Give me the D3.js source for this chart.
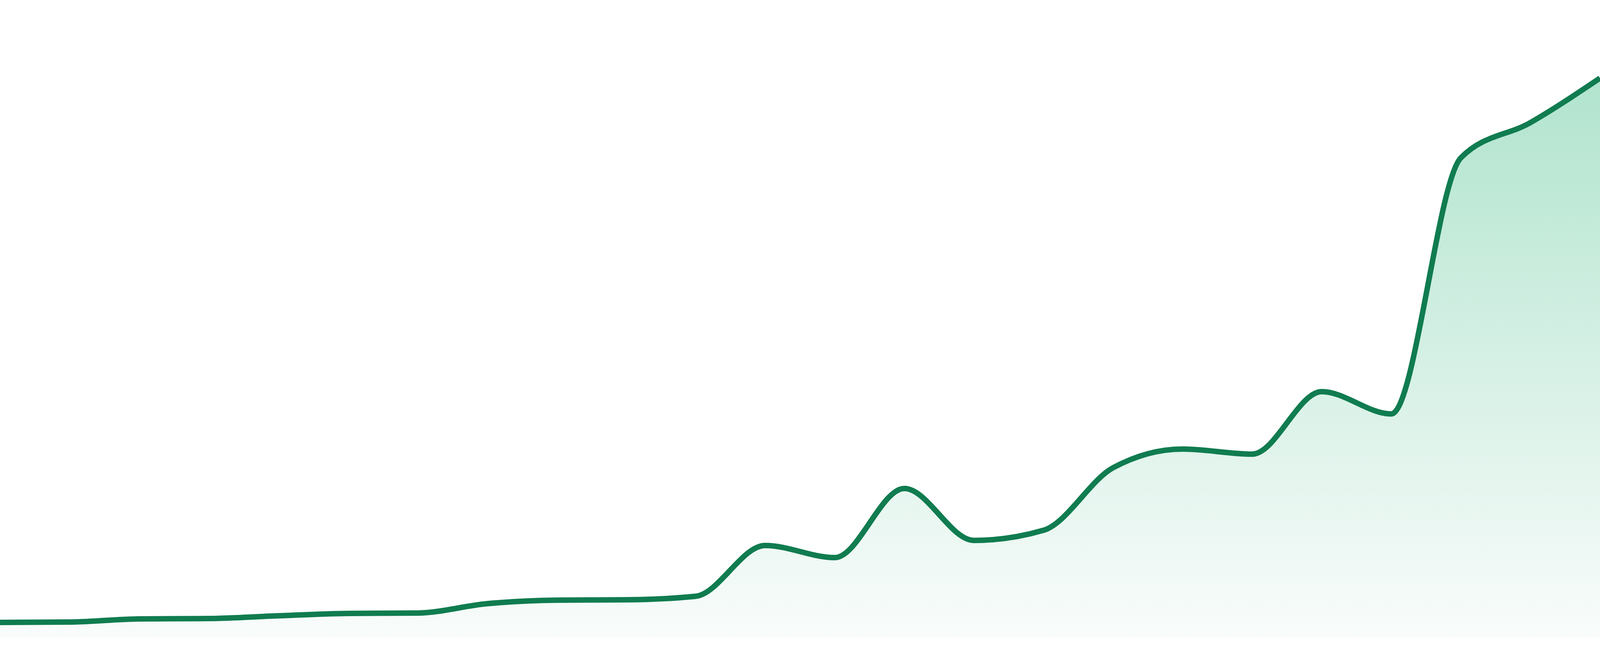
<!DOCTYPE html>
<html>
<head>
<meta charset="utf-8">
<script src="https://cdn.jsdelivr.net/npm/d3@7"></script>
<style>
  html, body { margin: 0; padding: 0; background: #ffffff; overflow: hidden; }
  svg { display: block; }
</style>
</head>
<body>
<div id="chart"></div>
<script>
// Point index along the x axis (no labels are shown in the chart)
const points = d3.range(24);

// Series values
const values = [
  2.65, 2.72, 3.28, 3.35, 3.84, 4.26, 4.33, 6.0, 6.63, 6.7, 7.33, 16.41,
  14.25, 26.6, 17.32, 19.13, 30.31, 33.66, 32.75, 43.92, 39.94, 85.75, 92.04, 100
];

// fill the browser window
const width = window.innerWidth || 4800;
const height = window.innerHeight || 1680;
const margin = { top: 200, right: 0, bottom: 48, left: 0 };

const data = points.map((p, i) => ({ p, v: values[i] }));

const svg = d3.select("#chart").append("svg")
  .attr("width", width)
  .attr("height", height);

// Define x scale
const xScale = d3.scaleLinear()
  .domain([0, points.length - 1])
  .range([margin.left, width - margin.right]);

// Define y scale
const yScale = d3.scaleLinear()
  .domain([0, 100])
  .range([height - margin.bottom, margin.top]);

// Vertical gradient for the area
const grad = svg.append("defs").append("linearGradient")
  .attr("id", "areaFill")
  .attr("gradientUnits", "userSpaceOnUse")
  .attr("x1", 0).attr("x2", 0)
  .attr("y1", yScale(100)).attr("y2", yScale(0));
grad.append("stop").attr("offset", "0%").attr("stop-color", "#b1e4ce");
grad.append("stop").attr("offset", "100%").attr("stop-color", "#f9fcfb");

// Area
const area = d3.area()
  .curve(d3.curveMonotoneX)
  .x(d => xScale(d.p))
  .y0(yScale(0))
  .y1(d => yScale(d.v));

svg.append("path")
  .datum(data)
  .attr("fill", "url(#areaFill)")
  .attr("d", area);

// Line
const line = d3.line()
  .curve(d3.curveMonotoneX)
  .x(d => xScale(d.p))
  .y(d => yScale(d.v));

svg.append("path")
  .datum(data)
  .attr("fill", "none")
  .attr("stroke", "#107c50")
  .attr("stroke-width", 14)
  .attr("stroke-linejoin", "round")
  .attr("d", line);
</script>
</body>
</html>
